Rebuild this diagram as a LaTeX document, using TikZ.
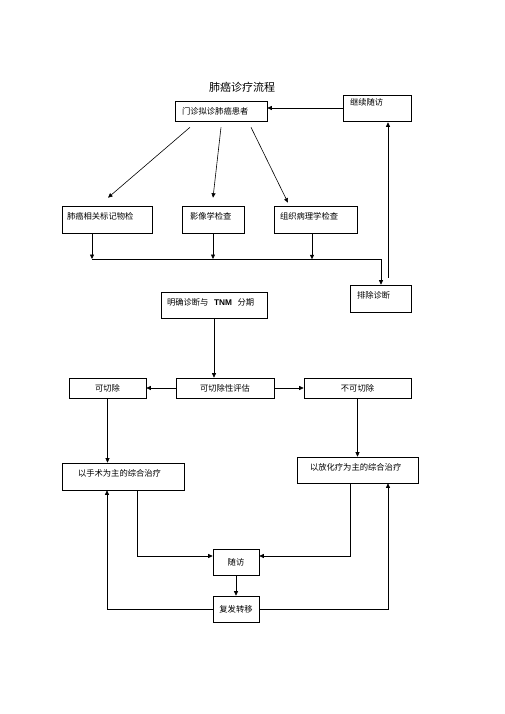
\documentclass[tikz,border=0pt]{standalone}
\usepackage{fontspec}
\setmainfont{Noto Sans CJK SC}
\newfontfamily\latinfont{Liberation Sans}
\usetikzlibrary{arrows.meta}
\usetikzlibrary{calc}
\tikzset{%
    box/.style={draw, rectangle, inner sep=0pt, line width=0.6pt, font=\fontsize{8.3}{10}\selectfont},
    lbox/.style={box, align=left}
}

\begin{document}
\begin{tikzpicture}[x=1pt, y=-1pt,
            edge/.style={line width=0.6pt},
            arr/.style={edge, -{Triangle[length=4.5pt, width=4pt]}}
            ]
            \useasboundingbox (0,0) rectangle (505,714);
            \node[font=\fontsize{11}{13}\selectfont] (t) at (242,87) {肺癌诊疗流程};
            \node[lbox, minimum height=20pt, inner xsep=7pt, text width=78pt] (n1) at (221,111) {门诊拟诊肺癌患者};
            \node[lbox, minimum height=26pt, inner xsep=7pt, text width=54pt, text depth=11pt] (n2) at (377,108) {继续随访};
            \node[lbox, minimum height=27pt, inner xsep=5pt, text width=80pt, text depth=8pt] (a1) at (107,219.5) {肺癌相关标记物检};
            \node[lbox, minimum height=27pt, inner xsep=8pt, text width=46pt, text depth=8pt] (a2) at (213,219.5) {影像学检查};
            \node[lbox, minimum height=27pt, inner xsep=6pt, text width=71pt, text depth=8pt] (a3) at (315.5,219.5) {组织病理学检查};
            \node[lbox, minimum height=27pt, inner xsep=7pt, text width=47pt, text depth=8pt] (ex) at (380.5,298.5) {排除诊断};
            \node[lbox, minimum height=26pt, inner xsep=6pt, text width=94pt, text depth=7pt] (dx) at (214,305) {明确诊断与\ \ {\latinfont\bfseries TNM}\ \ 分期};
            \node[box, minimum width=98pt, minimum height=20pt] (ev) at (225,388) {可切除性评估};
            \node[box, minimum width=77pt, minimum height=20pt] (r1) at (107.5,388) {可切除};
            \node[box, minimum width=107pt, minimum height=20pt] (r2) at (357.5,388) {不可切除};
            \node[lbox, minimum height=27pt, inner xsep=16pt, text width=90pt, text depth=8pt] (s1) at (123,476.5) {以手术为主的综合治疗};
            \node[lbox, minimum height=26pt, inner xsep=13pt, text width=95pt, text depth=7pt] (s2) at (357.5,470) {以放化疗为主的综合治疗};
            \node[box, minimum width=46pt, minimum height=26pt] (fu) at (236,562) {随访};
            \node[box, minimum width=46pt, minimum height=26pt] (re) at (236,609) {复发转移};
            \coordinate (jl) at (92,259);
            \coordinate (jr) at (381,259);
            % top part
            \draw[arr] (n2.west) -- (n2.west -| n1.east);
            \draw[arr] ($(n1.south)+(-31,6)$) -- ($(a1.north)+(1,-8)$);
            \draw[arr] ($(n1.south)+(0,6)$) -- ($(a2.north)+(0,-8)$);
            \draw[arr] ($(n1.south)+(30,6)$) -- ($(a3.north)+(-27.5,-3)$);
            \draw[arr] ($(a1.south)+(-15,0)$) -- (jl);
            \draw[arr] (a2.south) -- (a2.south |- jl);
            \draw[arr] ($(a3.south)+(-3.5,0)$) -- ++(0,26);
            \draw[edge] (jl) -- (jr);
            \draw[arr] (jr) -- (jr |- ex.north);
            \draw[arr] ($(ex.north)+(7.5,-7)$) -- ($(n2.south)+(11,1)$);
            % bottom part
            \draw[arr] (dx.south) -- (dx.south |- ev.north);
            \draw[arr] (ev.west) -- (r1.east);
            \draw[arr] (ev.east) -- (r2.west);
            \draw[arr] (r1.south) -- (r1.south |- s1.north);
            \draw[arr] (r2.south) -- (r2.south |- s2.north);
            \draw[arr] ($(s1.south)+(14,0)$) |- ($(fu.west)+(0,-6)$);
            \draw[arr] ($(s2.south)+(-7.5,0)$) |- ($(fu.east)+(0,-6)$);
            \draw[arr] (fu.south) -- (re.north);
            \draw[arr] (re.west) -| ($(s1.south)+(-16,0)$);
            \draw[arr] (re.east) -| ($(s2.south)+(30.5,0)$);
        \end{tikzpicture}
\end{document}
